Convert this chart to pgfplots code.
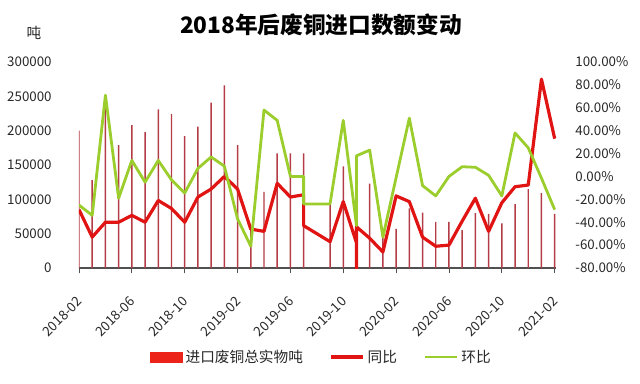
\documentclass[border=0pt]{standalone}
\usepackage{fontspec}
\setmainfont{Noto Sans CJK SC}
\usepackage{pgfplots}
\pgfplotsset{compat=1.18}
\definecolor{barcol}{RGB}{180,60,70}
\definecolor{legbar}{RGB}{235,35,25}
\definecolor{redline}{RGB}{225,20,20}
\definecolor{greenline}{RGB}{155,205,45}
\definecolor{axcol}{RGB}{80,80,80}
\definecolor{txt}{RGB}{40,40,40}
\begin{document}
\begin{tikzpicture}
\path[use as bounding box] (0,0) rectangle (480pt,287.25pt);
\node[font=\fontsize{17}{20}\selectfont\bfseries, text=black] at (240.75pt,268.5pt) {2018年后废铜进口数额变动};
\node[font=\fontsize{11}{13}\selectfont, text=txt] at (25.5pt,262.5pt) {吨};
\begin{axis}[
  at={(59.25pt,86.25pt)}, anchor=south west,
  scale only axis, width=357.75pt, height=154.5pt,
  xmin=0, xmax=36.1, ymin=0, ymax=300000,
  scaled y ticks=false,
  axis x line*=bottom, axis y line*=left,
  y axis line style={draw=none},
  x axis line style={draw=axcol, line width=0.8pt, -},
  xtick={0,4,...,36},
  xticklabels={2018-02,2018-06,2018-10,2019-02,2019-06,2019-10,2020-02,2020-06,2020-10,2021-02},
  xtick style={draw=axcol, line width=0.6pt},
  major tick length=4pt,
  tick align=outside,
  ytick={0,50000,100000,150000,200000,250000,300000},
  yticklabels={0,50000,100000,150000,200000,250000,300000},
  ytick style={draw=none},
  yticklabel style={font=\fontsize{10}{12}\selectfont, text=txt, xshift=-13pt},
  xticklabel style={font=\fontsize{10}{12}\selectfont, text=txt, xshift=3pt, yshift=-17pt, rotate=45, anchor=east},
]
\addplot[ybar, bar width=1.1pt, fill=barcol, draw=none] table {
x y
0 200000
1 128000
2 235000
3 179000
4 208000
5 198000
6 231000
7 224000
8 192000
9 206000
10 241000
11 266000
12 179000
13 60000
14 111000
15 167000
16 167000
17 167000
19 93000
20 148000
21 60000
22 123000
23 53000
24 57000
25 87000
26 80500
27 67000
28 67000
29 55000
30 80000
31 79000
32 65000
33 93000
34 115000
35 109000
36 79000
};
\end{axis}
\begin{axis}[
  at={(59.25pt,86.25pt)}, anchor=south west,
  scale only axis, width=357.75pt, height=154.5pt,
  xmin=0, xmax=36.1, ymin=-80, ymax=100,
  axis y line*=right, axis x line=none,
  y axis line style={draw=none},
  ytick style={draw=none},
  ytick={-80,-60,-40,-20,0,20,40,60,80,100},
  yticklabels={-80.00\%,-60.00\%,-40.00\%,-20.00\%,0.00\%,20.00\%,40.00\%,60.00\%,80.00\%,100.00\%},
  yticklabel style={font=\fontsize{10}{12}\selectfont, text=txt, xshift=11pt},
  legend style={at={(0.509,-0.432)}, anchor=center, draw=none, fill=none,
    font=\fontsize{11}{13}\selectfont, text=txt,
    legend columns=3, /tikz/every even column/.append style={column sep=18pt}},
  legend image code/.code={\draw[#1] (0cm,0cm) -- (0.85cm,0cm);},
]
\addlegendimage{legend image code/.code={\fill[legbar] (0cm,-0.13cm) rectangle (0.85cm,0.13cm);}}
\addlegendentry{进口废铜总实物吨}
\addplot[redline, line width=2.4pt, line join=round] coordinates {
(0,-29) (1,-53) (2,-40) (3,-40) (4,-34) (5,-40) (6,-21) (7,-28) (8,-40) (9,-18)
(10,-11) (11,0) (12,-11) (13,-46) (14,-48) (15,-6) (16,-18) (17,-16) (17,-43)
(18,-50) (19,-57) (20,-22) (21,-58) (21,-85) (21,-44) (22,-54) (23,-66) (24,-17)
(25,-22) (26,-53) (27,-61) (28,-60) (29,-39) (30,-19) (31,-48) (32,-23) (33,-9)
(34,-7.5) (35,85) (36,33)
};
\addlegendentry{同比}
\addplot[greenline, line width=2.1pt, line join=round] coordinates {
(0,-25) (1,-34) (2,71) (3,-19) (4,14) (5,-5) (6,14) (7,-3) (8,-14.5) (9,7)
(10,17) (11,9) (12,-37) (13,-61) (14,58) (15,49) (16,0) (17,0) (17,-24) (18,-24)
(19,-24) (20,49) (21,-43) (21,18) (22,23) (23,-53) (24,-1) (25,51) (26,-8)
(27,-17) (28,0) (29,8.5) (30,8) (31,1) (32,-17) (33,38) (34,25) (35,-1.5) (36,-29)
};
\addlegendentry{环比}
\end{axis}
\end{tikzpicture}
\end{document}
